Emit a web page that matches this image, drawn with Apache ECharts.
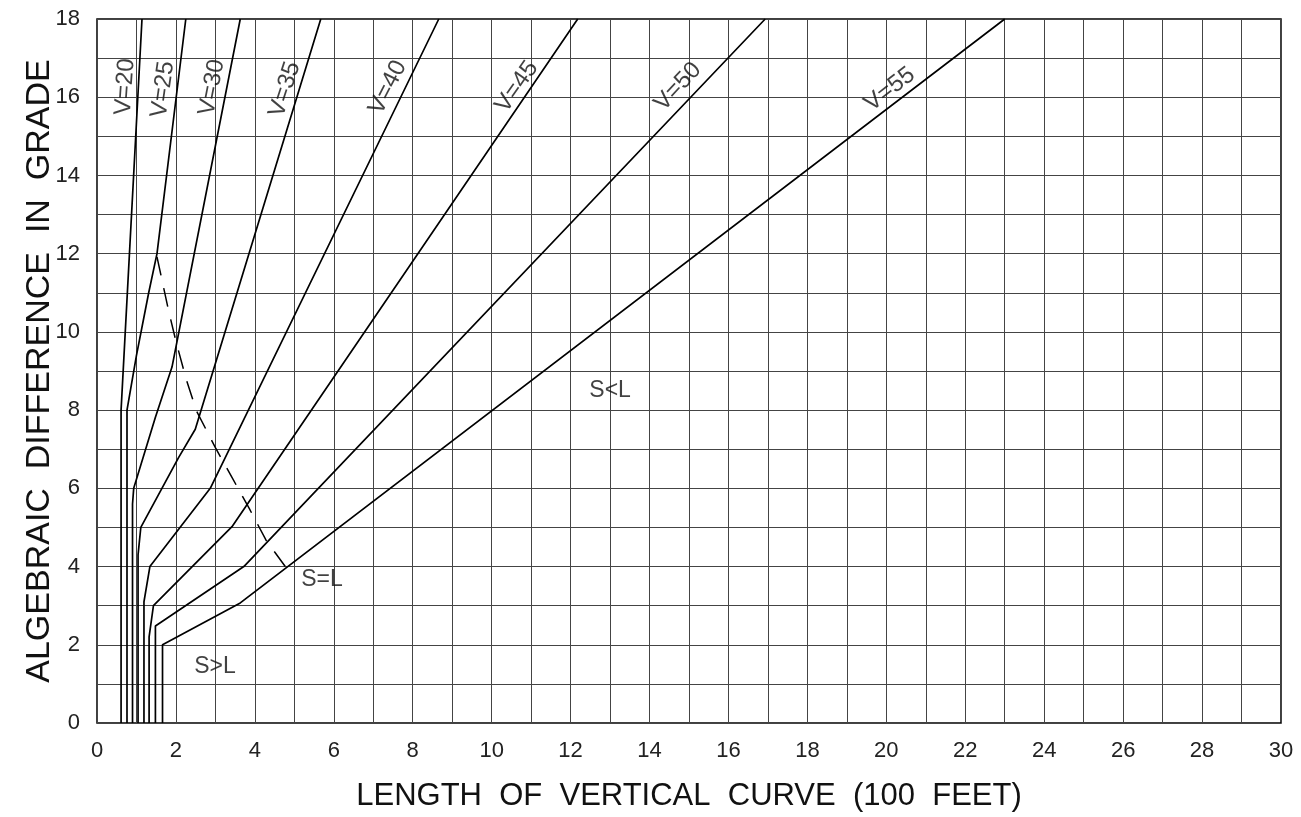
<!DOCTYPE html>
<html><head><meta charset="utf-8">
<script src="https://cdn.jsdelivr.net/npm/echarts@6/dist/echarts.min.js"></script>
<style>html,body{margin:0;padding:0;background:#fff}#c{width:1301px;height:817px}</style>
</head><body><div id="c"></div>
<script>
// ---- data ----
const xTickLabels = ['0','2','4','6','8','10','12','14','16','18','20','22','24','26','28','30'];
const yTickLabels = ['0','2','4','6','8','10','12','14','16','18'];
const speeds = ['V=20','V=25','V=30','V=35','V=40','V=45','V=50','V=55'];
const v20 = [[0.61,0],[0.61,8],[1.14,18]];
const v25 = [[0.76,0],[0.76,8],[1.0,9.4],[1.31,11.0],[1.52,12.0],[2.25,18]];
const v30 = [[0.9,0],[0.9,5.6],[0.93,6.0],[1.48,7.82],[1.9,9.1],[3.63,18]];
const v35 = [[1.04,0],[1.04,4.3],[1.11,5.0],[2.07,6.79],[2.49,7.51],[5.67,18]];
const v40 = [[1.19,0],[1.19,3.1],[1.34,4.0],[2.87,6.0],[8.66,18]];
const v45 = [[1.32,0],[1.32,2.2],[1.43,3.0],[3.42,5.02],[12.18,18]];
const v50 = [[1.48,0],[1.48,2.48],[3.72,4.0],[16.93,18]];
const v55 = [[1.66,0],[1.66,2.0],[3.63,3.07],[23.0,18]];
const sEqualL = [[1.52,11.92],[1.81,10.56],[2.0,9.76],[2.26,8.79],[2.52,7.98],[3.0,7.04],[3.42,6.28],[3.86,5.48],[4.28,4.68],[4.77,4.0]];
const speedLabelPos = [[0.71,16.27],[1.67,16.2],[2.91,16.25],[4.76,16.2],[7.37,16.25],[10.64,16.27],[14.72,16.27],[20.09,16.2]];
const speedLabelAngle = [86,82,79,72,63,55,47,38];
const regionLabels = ['S<L','S=L','S>L'];
const regionLabelPos = [[13.0,8.49],[5.7,3.66],[2.99,1.45]];
const xName = 'LENGTH  OF  VERTICAL  CURVE  (100  FEET)';
const yName = 'ALGEBRAIC  DIFFERENCE  IN  GRADE';

// ---- chart ----
const FONT = '"Liberation Sans", Arial, sans-serif';
const curves = [v20,v25,v30,v35,v40,v45,v50,v55];
const series = curves.map((d,i)=>({
  type:'line', name:speeds[i], data:d, symbol:'none', silent:true,
  lineStyle:{color:'#000', width:1.7}, z:3
}));
series.push({
  type:'line', name:'S=L', data:sEqualL, symbol:'none', silent:true,
  lineStyle:{color:'#000', width:1.5, type:[19,13]}, z:3
});
series.push({
  type:'scatter', symbolSize:0, silent:true, z:4,
  data: speeds.map((s,i)=>({value:speedLabelPos[i], label:{formatter:s, rotate:speedLabelAngle[i]}})),
  label:{show:true, position:'inside', color:'#111', fontSize:24, fontFamily:FONT}
});
series.push({
  type:'scatter', symbolSize:0, silent:true, z:4,
  data: regionLabels.map((s,i)=>({value:regionLabelPos[i], label:{formatter:s}})),
  label:{show:true, position:'inside', color:'#111', fontSize:23, fontFamily:FONT}
});

const chart = echarts.init(document.getElementById('c'), null, {renderer:'canvas'});
chart.setOption({
  animation:false,
  backgroundColor:'#fff',
  grid:{left:97, right:20, top:19, bottom:90, show:true, borderColor:'#000', borderWidth:1.5, backgroundColor:'transparent'},
  xAxis:{
    type:'value', min:0, max:30, interval:1,
    name:xName, nameLocation:'middle', nameGap:58, nameMoveOverlap:false,
    nameTextStyle:{fontSize:31, color:'#111', fontFamily:FONT},
    axisLine:{show:false}, axisTick:{show:false},
    axisLabel:{margin:17, fontSize:22, color:'#222', fontFamily:FONT,
      formatter:v=> xTickLabels.includes(String(v)) ? String(v) : ''},
    splitLine:{show:true, lineStyle:{color:'#444', width:1}}
  },
  yAxis:{
    type:'value', min:0, max:18, interval:1,
    name:yName, nameLocation:'middle', nameGap:40, nameRotate:90, nameMoveOverlap:false,
    nameTextStyle:{fontSize:34, color:'#111', fontFamily:FONT},
    axisLine:{show:false}, axisTick:{show:false},
    axisLabel:{margin:17, fontSize:22, color:'#222', fontFamily:FONT,
      formatter:v=> yTickLabels.includes(String(v)) ? String(v) : ''},
    splitLine:{show:true, lineStyle:{color:'#444', width:1}}
  },
  series:series
});
</script>
</body></html>
